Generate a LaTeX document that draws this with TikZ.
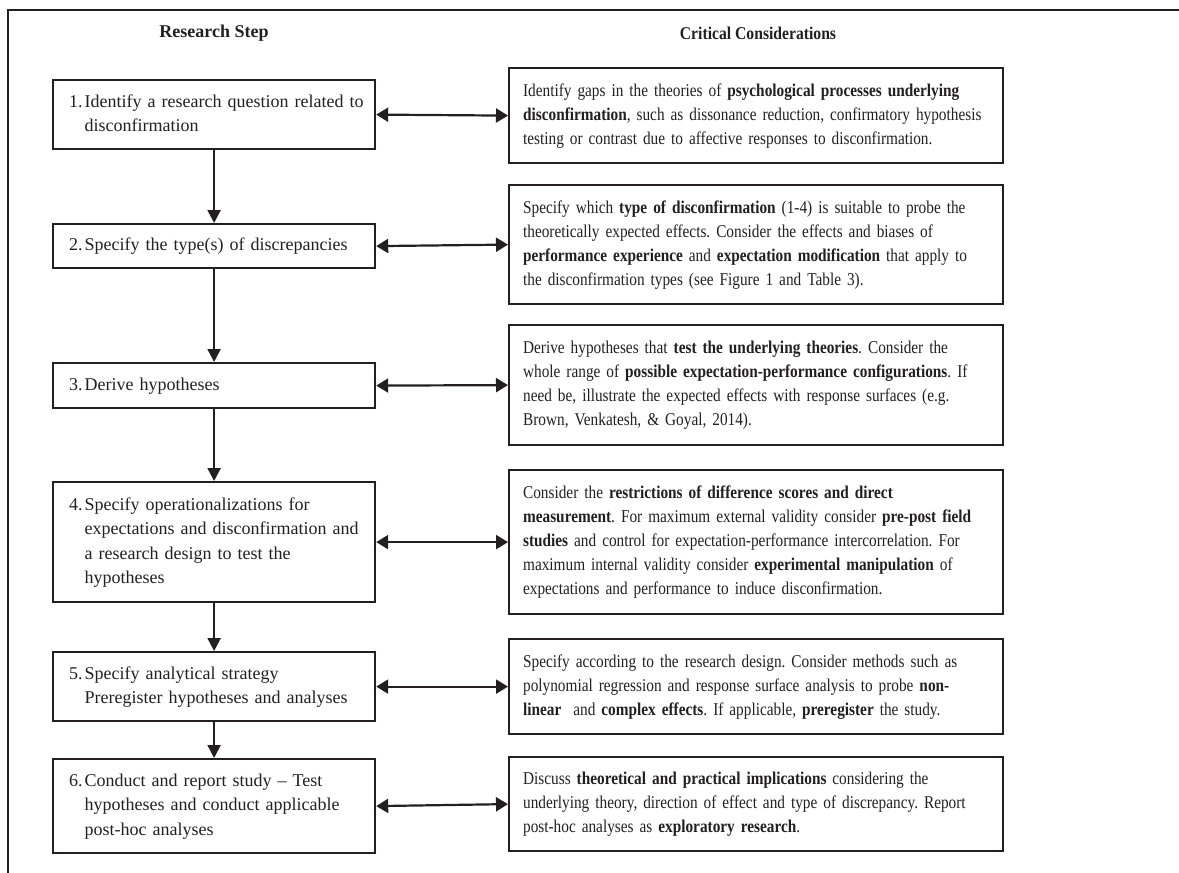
\documentclass[tikz,border=0pt]{standalone}
\usepackage{fontspec}
\setmainfont{Liberation Serif}
\newfontfamily\condfont[FakeStretch=0.85]{Liberation Serif}
\newfontfamily\headfont[FakeStretch=0.87]{Liberation Serif}
\usetikzlibrary{arrows.meta}
\definecolor{ink}{HTML}{231F20}
\newcommand{\numstep}[2]{\begin{tabular}{@{}p{15.5pt}@{}l@{}}#1&#2\end{tabular}}
\newcommand{\rlines}[1]{\begin{tabular}{@{}l@{}}#1\end{tabular}}
\frenchspacing
\begin{document}
\begin{tikzpicture}[x=1pt,y=-1pt,
  txt/.style={font=\fontsize{18}{24.2}\selectfont\frenchspacing},
  lbox/.style={txt, draw=ink, text=ink, line width=2.2pt, anchor=north west, inner xsep=16pt, inner ysep=0pt, text width=290pt, align=left},
  rbox/.style={draw=ink, text=ink, font=\condfont\fontsize{18}{24}\selectfont\frenchspacing, line width=2.2pt, anchor=north west, inner xsep=14pt, inner ysep=0pt, text width=466pt, align=left},
  head/.style={text=ink, font=\fontsize{18}{22}\selectfont\bfseries, inner sep=0pt},
  flow/.style={draw=ink, line width=2.2pt, -{Triangle[length=13pt,width=13pt]}},
  link/.style={draw=ink, line width=2.2pt, {Triangle[length=12pt,width=14pt]}-{Triangle[length=12pt,width=14pt]}}
]
\useasboundingbox (0,0) rectangle (1179,873);
\draw[ink, line width=2.2pt] (1179,10) -- (8,10) -- (8,873);

\node[head] (h1) at (214,33) {Research Step};
\node[head, font=\headfont\fontsize{18}{22}\selectfont\bfseries] (h2) at (758,33) {Critical Considerations};

% left column
\node[lbox, minimum height=69pt] (L1) at (52,79) {\numstep{1.}{Identify a research question related to\\ & disconfirmation}};
\node[lbox, minimum height=44pt] (L2) at (52,223) {\numstep{2.}{Specify the type(s) of discrepancies}};
\node[lbox, minimum height=45pt] (L3) at (52,362) {\numstep{3.}{Derive hypotheses}};
\node[lbox, minimum height=120pt] (L4) at (52,481) {\numstep{4.}{Specify operationalizations for\\ & expectations and disconfirmation and\\ & a research design to test the\\ & hypotheses}};
\node[lbox, minimum height=69pt] (L5) at (52,651) {\numstep{5.}{Specify analytical strategy\\ & Preregister hypotheses and analyses}};
\node[lbox, minimum height=94pt] (L6) at (52,758) {\numstep{6.}{Conduct and report study -- Test\\ & hypotheses and conduct applicable\\ & post-hoc analyses}};

% right column
\node[rbox, minimum height=95pt] (R1) at (508,67) {\rlines{Identify gaps in the theories of \textbf{psychological processes underlying}\\
\textbf{disconfirmation}, such as dissonance reduction, confirmatory hypothesis\\
testing or contrast due to affective responses to disconfirmation.}};
\node[rbox, minimum height=119pt] (R2) at (508,184) {\rlines{Specify which \textbf{type of disconfirmation} (1-4) is suitable to probe the\\
theoretically expected effects. Consider the effects and biases of\\
\textbf{performance experience} and \textbf{expectation modification} that apply to\\
the disconfirmation types (see Figure 1 and Table 3).}};
\node[rbox, minimum height=120pt] (R3) at (508,324) {\rlines{Derive hypotheses that \textbf{test the underlying theories}. Consider the\\
whole range of \textbf{possible expectation-performance configurations}. If\\
need be, illustrate the expected effects with response surfaces (e.g.\\
Brown, Venkatesh, \& Goyal, 2014).}};
\node[rbox, minimum height=144pt] (R4) at (508,469) {\rlines{Consider the \textbf{restrictions of difference scores and direct}\\
\textbf{measurement}. For maximum external validity consider \textbf{pre-post field}\\
\textbf{studies} and control for expectation-performance intercorrelation. For\\
maximum internal validity consider \textbf{experimental manipulation} of\\
expectations and performance to induce disconfirmation.}};
\node[rbox, minimum height=95pt] (R5) at (508,638) {\rlines{Specify according to the research design. Consider methods such as\\
polynomial regression and response surface analysis to probe \textbf{non-}\\
\textbf{linear}\ \ and \textbf{complex effects}. If applicable, \textbf{preregister} the study.}};
\node[rbox, minimum height=94pt] (R6) at (508,756) {\rlines{Discuss \textbf{theoretical and practical implications} considering the\\
underlying theory, direction of effect and type of discrepancy. Report\\
post-hoc analyses as \textbf{exploratory research}.}};

% flow arrows
\draw[flow] (L1.south) -- (L2.north);
\draw[flow] (L2.south) -- (L3.north);
\draw[flow] (L3.south) -- (L4.north);
\draw[flow] (L4.south) -- (L5.north);
\draw[flow] (L5.south) -- (L6.north);

% links
\draw[link] (L1.east) -- (R1.west);
\draw[link] (L2.east) -- (R2.west);
\draw[link] (L3.east) -- (R3.west);
\draw[link] (L4.east) -- (R4.west);
\draw[link] (L5.east) -- (R5.west);
\draw[link] (L6.east) -- (R6.west);
\end{tikzpicture}
\end{document}
